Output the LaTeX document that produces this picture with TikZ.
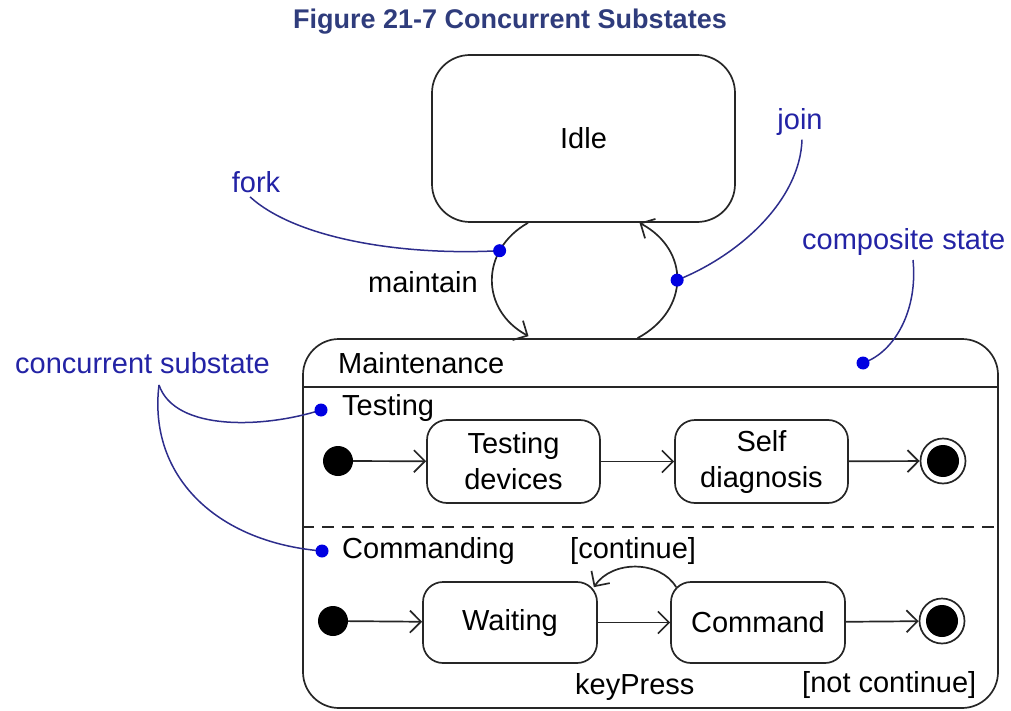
\documentclass[tikz,border=0pt]{standalone}
\usepackage{fontspec}
\setmainfont{Liberation Sans}
\usetikzlibrary{arrows.meta,calc}
\definecolor{titleblue}{RGB}{47,60,124}
\definecolor{notecol}{RGB}{35,35,165}
\definecolor{notelinecol}{RGB}{45,45,140}
\definecolor{dotblue}{RGB}{0,0,225}
\begin{document}
\begin{tikzpicture}[x=1pt,y=-1pt,
  every node/.style={font=\fontsize{29}{36}\selectfont},
  statebox/.style={draw=black!85, line width=1.7pt, rounded corners=20pt, align=center, inner sep=0pt},
  txt/.style={inner sep=0pt, anchor=west},
  notetxt/.style={inner sep=0pt, text=notecol},
  trans/.style={draw=black!85, line width=1.7pt, -{Straight Barb[length=11pt,width=22pt]}},
  noteline/.style={draw=notelinecol, line width=1.5pt},
  bdot/.style={circle, fill=dotblue, inner sep=0pt, minimum size=13pt},
  initdot/.style={circle, fill=black, inner sep=0pt, minimum size=30pt},
  finalst/.style={circle, draw=black!85, line width=1.7pt, inner sep=0pt, minimum size=45pt,
     path picture={\fill[black] (path picture bounding box.center) circle (16);}}
]
\useasboundingbox (0,0) rectangle (1011,711);

% title
\node[inner sep=0pt, text=titleblue, font=\fontsize{27}{32}\selectfont\bfseries] (title) at (510,22) {Figure 21-7 Concurrent Substates};

% Idle
\node[statebox, rounded corners=38pt, minimum width=303pt, minimum height=167pt] (idle) at (583.5,138.5) {Idle};

% Maintenance composite state
\node[draw=black!85, line width=1.7pt, rounded corners=36pt, minimum width=695pt, minimum height=369pt, inner sep=0pt] (maint) at (650.5,523.5) {};
\draw[black!85, line width=1.5pt] (maint.west |- 0,387) coordinate (h1) -- (maint.east |- 0,387) coordinate (h2);
\draw[black!85, line width=1.5pt, dash pattern=on 12pt off 8pt] (maint.west |- 0,527) coordinate (d1) -- (maint.east |- 0,527) coordinate (d2);
\node[txt] (mtext) at (338,363) {Maintenance};
\node[txt] (ttext) at (342,408) {Testing};
\node[txt] (ctext) at (342,551) {Commanding};

% Testing region
\node[initdot] (i1) at (338,461) {};
\node[statebox, minimum width=173pt, minimum height=83pt] (td) at (513.5,461.5) {Testing\\devices};
\node[statebox, minimum width=173pt, minimum height=83pt] (sd) at (761.5,461.5) {Self\\diagnosis};
\node[finalst] (f1) at (943,461) {};
\draw[trans] (i1) -- (td);
\draw[trans] (td) -- (sd);
\draw[trans] (sd) -- (f1);

% Commanding region
\node[initdot] (i2) at (333,621) {};
\node[statebox, minimum width=174pt, minimum height=81pt] (wait) at (510,622.5) {Waiting};
\node[statebox, minimum width=174pt, minimum height=81pt] (cmd) at (758,622.5) {Command};
\node[finalst] (f2) at (942,621) {};
\draw[trans] (i2) -- (wait);
\draw[trans] (wait) -- (cmd);
\draw[trans] (cmd) -- (f2);
\draw[trans] ($(cmd.north west)+(6,6)$) .. controls (660,560) and (612,560) .. ($(wait.north east)+(-4,6)$);
\node[txt] (cont) at (570,551) {[continue]};
\node[txt] (kp) at (575,687) {keyPress};
\node[txt] (nc) at (802,685) {[not continue]};

% maintain / join transitions
\draw[trans] ($(idle.south)+(-55.5,0)$) .. controls (480,250) and (480,310) .. ($(maint.north)+(-122,-2)$)
   coordinate[pos=0.27] (forkpt);
\node[inner sep=0pt, anchor=east] (maintain) at (478,282) {maintain};
\draw[trans] ($(maint.north)+(-13,0)$) .. controls (690,310) and (690,250) .. ($(idle.south)+(56,0)$)
   coordinate[pos=0.5] (joinpt);
\coordinate (cdot) at (863,363);
\coordinate (tdot) at (321,410);
\coordinate (cmdot) at (322,551);

% annotations
\node[notetxt] (fork) at (256,182) {fork};
\node[notetxt] (join) at (800,122) {join};
\node[notetxt, anchor=west] (comp) at (802,242) {composite state};
\node[notetxt, anchor=west] (conc) at (15,363) {concurrent substate};
\draw[noteline] (fork.south -| 250,0) ++(0,4) .. controls (295,238) and (400,256) .. (forkpt);
\draw[noteline] (join.south) ++(2,4) .. controls (800,200) and (740,255) .. (joinpt);
\draw[noteline] (913,260) .. controls (918,310) and (895,352) .. (cdot);
\draw[noteline] (159,385) .. controls (175,432) and (265,428) .. (tdot);
\draw[noteline] (159,385) .. controls (148,475) and (215,542) .. (cmdot);
\node[bdot] (forkd) at (forkpt) {};
\node[bdot] (joind) at (joinpt) {};
\node[bdot] (compd) at (cdot) {};
\node[bdot] (testd) at (tdot) {};
\node[bdot] (commd) at (cmdot) {};
\end{tikzpicture}
\end{document}
